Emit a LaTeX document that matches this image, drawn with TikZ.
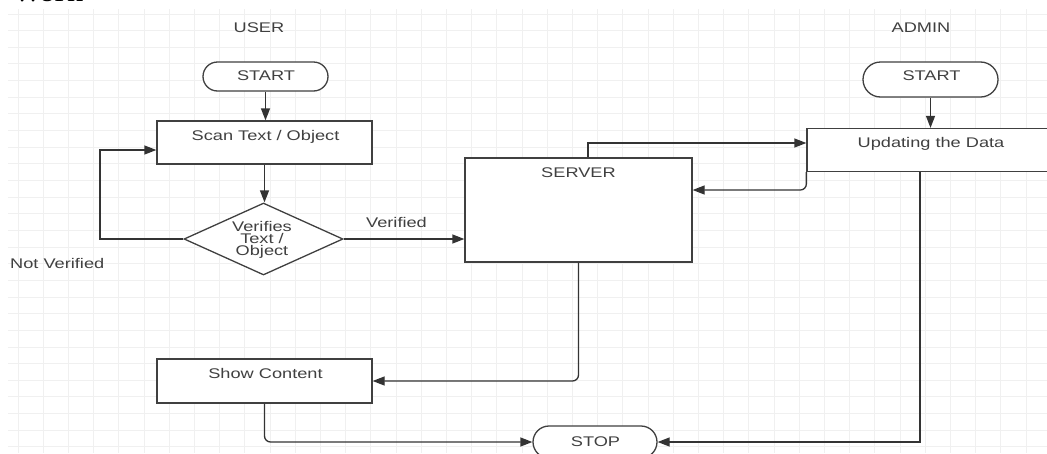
\documentclass[tikz,border=0pt]{standalone}
\usepackage{fontspec}
\newfontfamily\chartfont{Liberation Sans}[FakeStretch=1.3]
\newfontfamily\headfont{Liberation Serif}[FakeStretch=1.3]
\usetikzlibrary{shapes.geometric,shapes.misc,arrows.meta}

\begin{document}
\begin{tikzpicture}[x=1pt,y=-1pt,
		gridline/.style={draw=black!6, line width=1pt},
		ink/.style={draw=black!75, line width=1.3pt, fill=white, inner sep=0pt},
		proc/.style={ink, rectangle},
		term/.style={ink, rounded rectangle, minimum width=125pt, minimum height=29pt},
		dec/.style={ink, diamond},
		txt/.style={text=black!75, inner sep=0pt, font=\chartfont\fontsize{14}{12}\selectfont},
		arr/.style={draw=black!80, line width=1.3pt, -{Triangle[length=12pt,width=9pt]}}]

		\useasboundingbox (0,0) rectangle (1047,453);
		\fill[white] (0,0) rectangle (1047,453);

		\foreach \gx in {0,...,40}
			\draw[gridline] ({18+25.2*\gx},9) -- ({18+25.2*\gx},453);
		\foreach \gy in {0,...,26}
			\draw[gridline] (8,{14+16.65*\gy}) -- (1047,{14+16.65*\gy});

		\node[anchor=base west, inner sep=0pt, font=\headfont\bfseries\fontsize{22}{26}\selectfont] (work) at (13,1) {Work};

		\node[txt, anchor=base] (user) at (259,32) {USER};
		\node[txt, anchor=base] (admin) at (921,32) {ADMIN};

		\node[term] (ustart) at (265.5,76.5) {};
		\node[txt, anchor=base] (ustarttxt) at (266,80) {START};
		\node[term, minimum width=135pt, minimum height=35pt] (astart) at (930.5,79.5) {};
		\node[txt, anchor=base] (astarttxt) at (931.5,80) {START};

		\node[proc, minimum width=215pt, minimum height=43pt] (scan) at (264.5,142.5) {};
		\node[txt, anchor=base] (scantxt) at (265.5,140) {Scan Text / Object};

		\node[dec, minimum width=159pt, minimum height=72pt] (verify) at (263.5,239) {};
		\node[txt, align=center] (verifytxt) at (262,240) {Verifies\\Text /\\Object};

		\node[proc, minimum width=227pt, minimum height=104pt] (server) at (578.5,210) {};
		\node[txt, anchor=base] (servertxt) at (578.5,177) {SERVER};

		\node[proc, minimum width=248pt, minimum height=43pt] (update) at (931,150) {};
		\node[txt, anchor=base] (updatetxt) at (931,147) {Updating the Data};

		\node[proc, minimum width=215pt, minimum height=44pt] (showc) at (264.5,381) {};
		\node[txt, anchor=base] (showctxt) at (265.5,378) {Show Content};

		\node[term, minimum width=124pt, minimum height=32pt] (stop) at (595,442) {};
		\node[txt, anchor=base] (stoptxt) at (595.5,446) {STOP};

		\node[txt, anchor=base] (yes) at (396.5,227) {Verified};
		\node[txt, anchor=base west] (no) at (10,268) {Not Verified};

		\coordinate (back) at (100,150);
		\coordinate (feed) at (588,143);

		\draw[arr] (ustart.south) -- (ustart.south |- scan.north);
		\draw[arr] (scan.south) -- (scan.south |- verify.north);
		\draw[arr] (verify.west) -| (back) -- (back -| scan.west);
		\draw[arr] (verify.east) -- (verify.east -| server.west);
		\draw[arr] (server.north -| feed) |- (feed -| update.west);
		\draw[arr, rounded corners=6pt] (update.south west) |- ([yshift=20pt]server.east);
		\draw[arr] (astart.south) -- (astart.south |- update.north);
		\draw[arr, rounded corners=6pt] (server.south) |- (showc.east);
		\draw[arr, rounded corners=6pt] (showc.south) |- (stop.west);
		\draw[arr] ([xshift=-11pt]update.south) |- (stop.east);

	\end{tikzpicture}
\end{document}
